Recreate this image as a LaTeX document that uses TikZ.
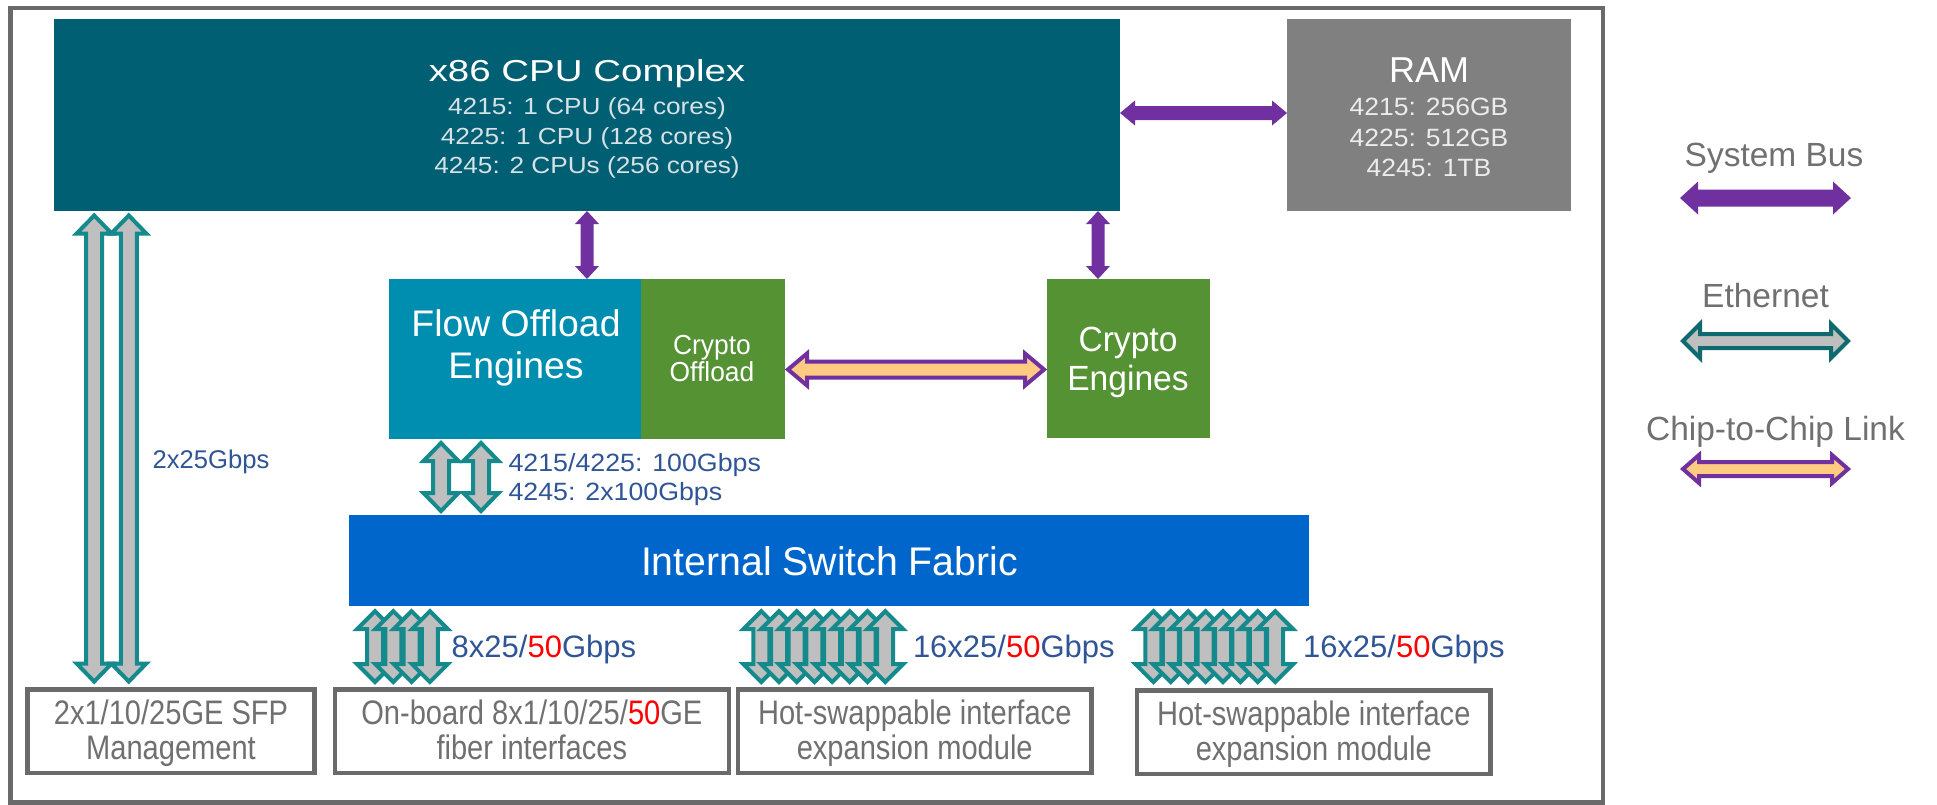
\documentclass[tikz,border=0pt]{standalone}
\usepackage{fontspec}
\setmainfont{Liberation Sans}
\usepackage{graphicx}
\usetikzlibrary{calc}

\definecolor{cpuc}{RGB}{0,95,115}
\definecolor{ramc}{RGB}{128,128,128}
\definecolor{flowc}{RGB}{0,142,176}
\definecolor{greenc}{RGB}{85,146,52}
\definecolor{fabc}{RGB}{0,102,204}
\definecolor{purp}{RGB}{112,48,160}
\definecolor{chipf}{RGB}{255,202,130}
\definecolor{tealc}{RGB}{20,138,140}
\definecolor{tealdk}{RGB}{14,106,110}
\definecolor{ethf}{RGB}{191,191,191}
\definecolor{framec}{RGB}{106,106,106}
\definecolor{txtgray}{RGB}{112,112,112}
\definecolor{lblue}{RGB}{47,85,151}
\definecolor{subtxt}{RGB}{214,226,230}
\definecolor{ramtxt}{RGB}{236,236,236}

\newcommand\T[3]{{\fontsize{#1}{#1}\selectfont\scalebox{#2}[1]{#3}}}

\newcommand\fatarrow[6]{%
  \coordinate (faP) at ($(#2)!#6!(#3)$);
  \coordinate (faQ) at ($(#3)!#6!(#2)$);
  \path[#1] (#2) -- ($(faP)!#5!90:(#3)$) -- ($(faP)!#4!90:(#3)$)
    -- ($(faQ)!#4!-90:(#2)$) -- ($(faQ)!#5!-90:(#2)$) -- (#3)
    -- ($(faQ)!#5!90:(#2)$) -- ($(faQ)!#4!90:(#2)$)
    -- ($(faP)!#4!-90:(#3)$) -- ($(faP)!#5!-90:(#3)$) -- cycle;}

\tikzset{
  sysbus/.style={fill=purp},
  eth/.style={fill=ethf, draw=tealc, line width=4pt, line join=miter},
  ethlg/.style={fill=ethf, draw=tealdk, line width=4pt, line join=miter},
  chip/.style={fill=chipf, draw=purp, line width=4pt, line join=miter},
  bbox/.style={draw=framec, line width=4.3pt, fill=white, minimum height=83.5pt},
  gtxt/.style={anchor=base, text=txtgray},
  btxt/.style={anchor=base west, text=lblue},
}

\begin{document}
\begin{tikzpicture}[x=1pt,y=-1pt, every node/.style={inner sep=0pt, outer sep=0pt}]
\fill[white] (0,0) rectangle (1937,804);
\useasboundingbox (0,0) rectangle (1937,804);

\node[draw=framec, line width=4.5pt, minimum width=1592.5pt, minimum height=794.5pt] (frame) at (806.75,405.25) {};

% blocks
\node[fill=cpuc, minimum width=1066pt, minimum height=192pt] (cpu) at (587,115) {};
\node[fill=ramc, minimum width=284pt, minimum height=192pt] (ram) at (1429,115) {};
\node[fill=flowc, minimum width=252pt, minimum height=160pt] (flow) at (515,359) {};
\node[fill=greenc, minimum width=144pt, minimum height=160pt] (coff) at (713,359) {};
\node[fill=greenc, minimum width=163pt, minimum height=159pt] (ceng) at (1128.5,358.5) {};
\node[fill=fabc, minimum width=960pt, minimum height=90.7pt] (fabric) at (828.5,560.35) {};
\node[bbox, minimum width=287pt] (mgmt) at (171,731.25) {};
\node[bbox, minimum width=393.7pt] (onboard) at (531.85,731.25) {};
\node[bbox, minimum width=353.5pt] (hot1) at (914.75,731.25) {};
\node[bbox, minimum width=353.5pt] (hot2) at (1313.75,732.25) {};

% texts
\node[anchor=base, text=white] (cpuT) at (587,81.7) {\T{30.3}{1.27}{x86 CPU Complex}};
\node[anchor=base, text=subtxt] (cpuL1) at (587,114) {\T{23.3}{1.125}{4215: 1 CPU (64 cores)}};
\node[anchor=base, text=subtxt] (cpuL2) at (587,144) {\T{23.3}{1.125}{4225: 1 CPU (128 cores)}};
\node[anchor=base, text=subtxt] (cpuL3) at (587,173) {\T{23.3}{1.125}{4245: 2 CPUs (256 cores)}};

\node[anchor=base, text=white] (ramT) at (1429,82.7) {\T{36}{1}{RAM}};
\node[anchor=base, text=ramtxt] (ramL1) at (1429,115) {\T{25}{1.06}{4215: 256GB}};
\node[anchor=base, text=ramtxt] (ramL2) at (1429,146.7) {\T{25}{1.06}{4225: 512GB}};
\node[anchor=base, text=ramtxt] (ramL3) at (1429,176.5) {\T{25}{1.06}{4245: 1TB}};

\node[anchor=base, text=white] (flowT1) at (516,336.7) {\T{37}{1.01}{Flow Offload}};
\node[anchor=base, text=white] (flowT2) at (516,378) {\T{37}{1.01}{Engines}};
\node[anchor=base, text=white] (coffT1) at (712,354) {\T{27.5}{0.96}{Crypto}};
\node[anchor=base, text=white] (coffT2) at (712,381.7) {\T{27.5}{0.96}{Offload}};
\node[anchor=base, text=white] (cengT1) at (1128,351.7) {\T{35}{0.96}{Crypto}};
\node[anchor=base, text=white] (cengT2) at (1128,390.7) {\T{35}{0.96}{Engines}};
\node[anchor=base, text=white] (fabT) at (829.5,575) {\T{40}{0.98}{Internal Switch Fabric}};

\node[gtxt] (mgmtT1) at (171,724.5) {\T{34}{0.855}{2x1/10/25GE SFP}};
\node[gtxt] (mgmtT2) at (171,759) {\T{34}{0.855}{Management}};
\node[gtxt] (onbT1) at (531.85,724.5) {\T{34}{0.855}{On-board 8x1/10/25/\textcolor{red}{50}GE}};
\node[gtxt] (onbT2) at (531.85,759) {\T{34}{0.855}{fiber interfaces}};
\node[gtxt] (hot1T1) at (914.75,724.5) {\T{34}{0.855}{Hot-swappable interface}};
\node[gtxt] (hot1T2) at (914.75,759) {\T{34}{0.855}{expansion module}};
\node[gtxt] (hot2T1) at (1313.75,725.5) {\T{34}{0.855}{Hot-swappable interface}};
\node[gtxt] (hot2T2) at (1313.75,760) {\T{34}{0.855}{expansion module}};

\node[btxt] (l2x25) at (152.7,468) {\T{25.6}{1}{2x25Gbps}};
\node[btxt] (l100a) at (508.6,471.7) {\T{25}{1.07}{4215/4225: 100Gbps}};
\node[btxt] (l100b) at (508.6,500) {\T{25}{1.07}{4245: 2x100Gbps}};
\node[btxt] (l8x25) at (451.7,657.3) {\T{31}{1}{8x25/\textcolor{red}{50}Gbps}};
\node[btxt] (l16a) at (913,657.3) {\T{31}{1}{16x25/\textcolor{red}{50}Gbps}};
\node[btxt] (l16b) at (1303,657.3) {\T{31}{1}{16x25/\textcolor{red}{50}Gbps}};

% legend texts
\node[gtxt] (lgSB) at (1774,166.5) {\T{33.5}{1}{System Bus}};
\node[gtxt] (lgEth) at (1765.5,307.5) {\T{33.5}{1}{Ethernet}};
\node[gtxt] (lgChip) at (1775.5,440) {\T{33.5}{1}{Chip-to-Chip Link}};

% system bus arrows
\coordinate (sbA) at ($(cpu.north east)+(0,94)$);
\coordinate (sbB) at ($(ram.north west)+(0,94)$);
\fatarrow{sysbus}{sbA}{sbB}{7pt}{12.5pt}{15pt}
\coordinate (sbC) at ($(cpu.south west)+(533,0)$);
\coordinate (sbD) at ($(flow.north west)+(198,0)$);
\fatarrow{sysbus}{sbC}{sbD}{6.5pt}{12pt}{13pt}
\coordinate (sbE) at ($(cpu.south west)+(1044,0)$);
\coordinate (sbF) at ($(ceng.north west)+(51,0)$);
\fatarrow{sysbus}{sbE}{sbF}{6.5pt}{12pt}{13pt}

% chip-to-chip
\coordinate (ccA) at ($(coff.east)+(3,10.5)$);
\coordinate (ccB) at ($(ceng.west)+(-3,11)$);
\fatarrow{chip}{ccA}{ccB}{8pt}{16pt}{19pt}

% management ethernet
\coordinate (m1t) at ($(cpu.south west)+(40.2,4.5)$);
\coordinate (m1b) at ($(mgmt.north west)+(66.7,-8)$);
\fatarrow{eth}{m1t}{m1b}{8pt}{17.5pt}{18pt}
\coordinate (m2t) at ($(cpu.south west)+(74.8,4.5)$);
\coordinate (m2b) at ($(mgmt.north west)+(101.3,-8)$);
\fatarrow{eth}{m2t}{m2b}{8pt}{17.5pt}{18pt}

% flow to fabric
\coordinate (f1t) at ($(flow.south west)+(52,4)$);
\coordinate (f1b) at ($(fabric.north west)+(92.5,-4)$);
\fatarrow{eth}{f1t}{f1b}{8pt}{17.5pt}{18pt}
\coordinate (f2t) at ($(flow.south west)+(92,4)$);
\coordinate (f2b) at ($(fabric.north west)+(132.5,-4)$);
\fatarrow{eth}{f2t}{f2b}{8pt}{17.5pt}{18pt}

% fabric to interfaces
\foreach \k in {0,...,3} {
  \coordinate (gA\k) at ($(fabric.south west)+({26.5+18.3*\k},5.5)$);
  \coordinate (gB\k) at ($(onboard.north west)+({40+18.3*\k},-7.5)$);
  \fatarrow{eth}{gA\k}{gB\k}{8pt}{18pt}{18pt}
}
\foreach \k in {0,...,7} {
  \coordinate (hA\k) at ($(fabric.south west)+({412.8+17.7*\k},5.5)$);
  \coordinate (hB\k) at ($(hot1.north west)+({23.3+17.7*\k},-7.5)$);
  \fatarrow{eth}{hA\k}{hB\k}{8pt}{18pt}{18pt}
}
\foreach \k in {0,...,7} {
  \coordinate (iA\k) at ($(fabric.south west)+({804.9+17.4*\k},5.5)$);
  \coordinate (iB\k) at ($(hot2.north west)+({16.4+17.4*\k},-8.5)$);
  \fatarrow{eth}{iA\k}{iB\k}{8pt}{18pt}{18pt}
}

% legend arrows
\coordinate (lsA) at (1680,198);
\coordinate (lsB) at (1851,198);
\fatarrow{sysbus}{lsA}{lsB}{8.5pt}{16.5pt}{18pt}
\coordinate (leA) at (1683,341);
\coordinate (leB) at (1848,341);
\fatarrow{ethlg}{leA}{leB}{7pt}{17pt}{17pt}
\coordinate (lcA) at (1683,469);
\coordinate (lcB) at (1848,469);
\fatarrow{chip}{lcA}{lcB}{7pt}{14pt}{16pt}
\end{tikzpicture}
\end{document}
